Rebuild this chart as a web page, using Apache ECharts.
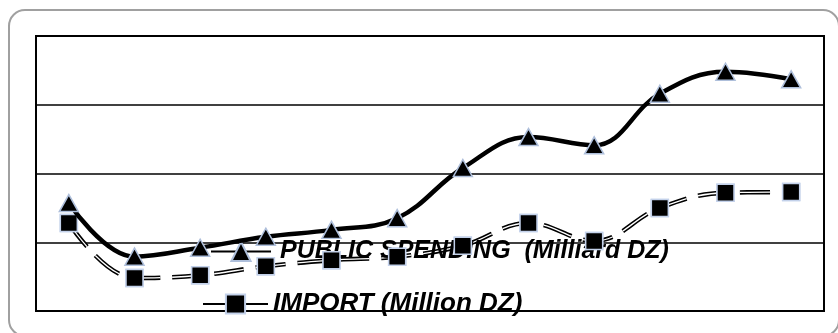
<!DOCTYPE html>
<html>
<head>
<meta charset="utf-8">
<script src="https://cdn.jsdelivr.net/npm/echarts@6/dist/echarts.min.js"></script>
<style>
html,body{margin:0;padding:0;background:#fff;}
#chart{width:838px;height:333px;}
</style>
</head>
<body>
<div id="chart"></div>
<script>
var categories = ['1','2','3','4','5','6','7','8','9','10','11','12'];
var publicSpending = [1.57, 0.79, 0.92, 1.08, 1.18, 1.35, 2.08, 2.53, 2.41, 3.16, 3.48, 3.37];
var importValues = [1.28, 0.48, 0.52, 0.65, 0.74, 0.79, 0.95, 1.28, 1.02, 1.50, 1.72, 1.73];
var nameSpending = 'PUBLIC SPENDING  (Milliard DZ)';
var nameImport = 'IMPORT (Million DZ)';

var chart = echarts.init(document.getElementById('chart'), null, {renderer: 'canvas'});
var legendText = {
  color: '#000', fontWeight: 'bold', fontStyle: 'italic',
  fontFamily: 'Liberation Sans, Arial, sans-serif'
};
var dashPattern = [30, 12];
chart.setOption({
  animation: false,
  graphic: [{
    type: 'rect', z: -10,
    shape: {x: 9, y: 10, width: 830, height: 326, r: 16},
    style: {fill: 'none', stroke: '#a0a0a0', lineWidth: 2}
  }],
  grid: {
    left: 36, top: 36, right: 14, bottom: 22,
    show: true, borderColor: '#000', borderWidth: 2, backgroundColor: 'transparent'
  },
  legend: [{
    data: [nameSpending], left: 205, top: 234,
    itemWidth: 60, itemHeight: 24,
    textStyle: Object.assign({fontSize: 25, padding: [0, 0, 0, 4]}, legendText)
  }, {
    data: [nameImport], left: 197, top: 286,
    itemWidth: 65, itemHeight: 24,
    textStyle: Object.assign({fontSize: 26}, legendText)
  }],
  xAxis: {
    type: 'category', data: categories, boundaryGap: true,
    axisLine: {show: false}, axisTick: {show: false}, axisLabel: {show: false}
  },
  yAxis: {
    type: 'value', min: 0, max: 4, interval: 1,
    axisLine: {show: false}, axisTick: {show: false}, axisLabel: {show: false},
    splitLine: {lineStyle: {color: '#000', width: 1.5}}
  },
  series: [{
    name: nameImport, type: 'line', data: importValues, smooth: 0.4, z: 2,
    symbol: 'rect', symbolSize: 17,
    itemStyle: {color: '#000', borderColor: '#c3d1ea', borderWidth: 1.5},
    lineStyle: {color: '#000', width: 4.5, type: dashPattern}
  }, {
    name: 'importInner', type: 'line', data: importValues, smooth: 0.4, z: 3,
    showSymbol: false, silent: true, symbol: 'none',
    lineStyle: {color: '#fff', width: 1.3, type: dashPattern}
  }, {
    name: 'importMarks', type: 'line', data: importValues, smooth: 0.4, z: 4,
    symbol: 'rect', symbolSize: 17, silent: true,
    itemStyle: {color: '#000', borderColor: '#c3d1ea', borderWidth: 1.5},
    lineStyle: {opacity: 0}
  }, {
    name: nameSpending, type: 'line', data: publicSpending, smooth: 0.4, z: 5,
    symbol: 'triangle', symbolSize: [19, 17],
    itemStyle: {color: '#000', borderColor: '#aebfdb', borderWidth: 1.5},
    lineStyle: {color: '#000', width: 4.5}
  }]
});
</script>
</body>
</html>
